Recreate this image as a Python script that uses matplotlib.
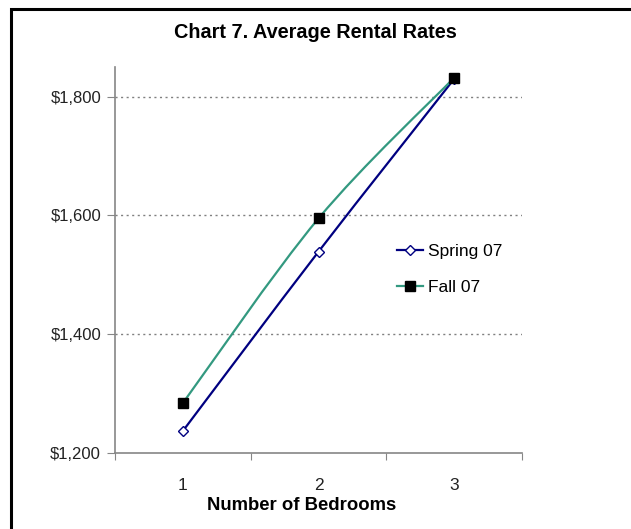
import matplotlib
matplotlib.use("Agg")
import matplotlib.pyplot as plt
from matplotlib.path import Path
from matplotlib.patches import PathPatch, Rectangle
from matplotlib.lines import Line2D
from matplotlib.ticker import FuncFormatter

plt.rcParams['font.family'] = ['Liberation Sans', 'DejaVu Sans']

bedrooms = [1, 2, 3]
spring_07 = [1237, 1539, 1830]
fall_07 = [1284, 1595, 1832]
series_names = ["Spring 07", "Fall 07"]
y_ticks = [1200, 1400, 1600, 1800]

NAVY = "#000080"
GREEN = "#339980"
AXIS = "#868686"


def smooth_path(xs, ys):
    # Catmull-Rom style bezier segments, like a spreadsheet "smoothed line"
    pts = list(zip(xs, ys))
    verts = [pts[0]]
    codes = [Path.MOVETO]
    n = len(pts)
    for i in range(n - 1):
        p0 = pts[i - 1] if i > 0 else pts[i]
        p1 = pts[i]
        p2 = pts[i + 1]
        p3 = pts[i + 2] if i + 2 < n else pts[i + 1]
        c1 = (p1[0] + (p2[0] - p0[0]) / 6, p1[1] + (p2[1] - p0[1]) / 6)
        c2 = (p2[0] - (p3[0] - p1[0]) / 6, p2[1] - (p3[1] - p1[1]) / 6)
        verts += [c1, c2, p2]
        codes += [Path.CURVE4] * 3
    return Path(verts, codes)


fig = plt.figure(figsize=(6.31, 5.29), dpi=100)
W, H = 631, 529
ax = fig.add_axes([115 / W, (H - 453) / H, (522 - 115) / W, (453 - 67) / H])

# frame around the chart (left and top edges visible)
fig.patches.append(Rectangle((11 / W, -0.1), 1.2, (H - 9) / H + 0.1,
                             transform=fig.transFigure, fill=False,
                             edgecolor="black", linewidth=2.2))

for ys, color in [(spring_07, NAVY), (fall_07, GREEN)]:
    ax.add_patch(PathPatch(smooth_path(bedrooms, ys), facecolor="none",
                           edgecolor=color, linewidth=1.6, zorder=3))

ax.plot(bedrooms, spring_07, linestyle="none", marker="D", markersize=5.5,
        markerfacecolor="white", markeredgecolor=NAVY, markeredgewidth=1.0, zorder=4)
ax.plot(bedrooms, fall_07, linestyle="none", marker="s", markersize=6.5,
        markerfacecolor="black", markeredgecolor="black", zorder=5)

ax.set_xlim(0.5, 3.5)
ax.set_ylim(1200, 1850)

ax.set_yticks(y_ticks)
ax.yaxis.set_major_formatter(FuncFormatter(lambda v, p: f"${v:,.0f}"))
ax.set_xticks([0.5, 1.5, 2.5, 3.5])
ax.set_xticklabels([])
ax.set_xticks(bedrooms, minor=True)
ax.set_xticklabels([str(b) for b in bedrooms], minor=True)
ax.tick_params(axis="x", which="minor", length=0, pad=18, labelsize=12.5,
               labelcolor="#222222")
ax.tick_params(axis="x", which="major", length=5, color=AXIS, direction="out")
ax.tick_params(axis="y", length=6, color=AXIS, direction="out", labelsize=12,
               labelcolor="#222222", pad=4)

for yv in y_ticks[1:]:
    ax.axhline(yv, color="#808080", linestyle=(0, (1.5, 2.5)), linewidth=1.0, zorder=1)

for side in ["top", "right"]:
    ax.spines[side].set_visible(False)
for side in ["left", "bottom"]:
    ax.spines[side].set_color(AXIS)
    ax.spines[side].set_linewidth(1.2)

fig.text(0.5, (H - 33) / H, "Chart 7. Average Rental Rates", ha="center",
         va="center", fontsize=14.3, fontweight="bold")
fig.text(302 / W, (H - 506) / H, "Number of Bedrooms", ha="center",
         va="center", fontsize=13.3, fontweight="bold")

handles = [
    Line2D([], [], color=NAVY, linewidth=1.6, marker="D", markersize=5.5,
           markerfacecolor="white", markeredgecolor=NAVY),
    Line2D([], [], color=GREEN, linewidth=1.6, marker="s", markersize=6.5,
           markerfacecolor="black", markeredgecolor="black"),
]
ax.legend(handles, series_names, loc="center left", bbox_to_anchor=(0.655, 0.475),
          frameon=False, fontsize=12.5, handlelength=1.5, handletextpad=0.3,
          labelspacing=1.2)

fig.savefig("out.png", dpi=100)
